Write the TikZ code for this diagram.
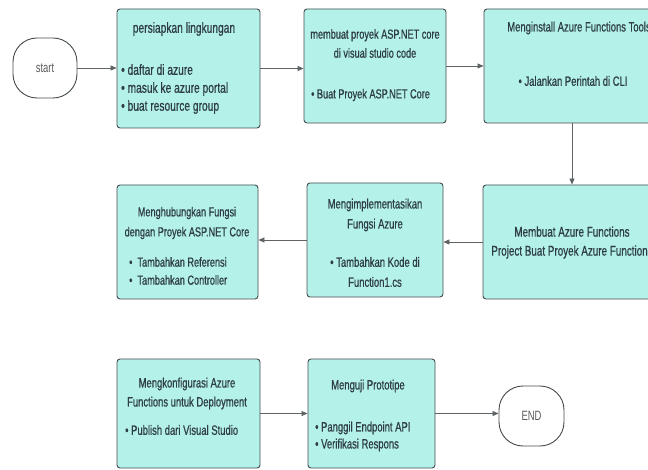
\documentclass[tikz,border=0pt]{standalone}
\usepackage{fontspec}
\setmainfont[FakeStretch=0.7]{Liberation Sans}
\newfontfamily\semib[FakeStretch=0.7,FakeBold=0.7]{Liberation Sans}
\usetikzlibrary{arrows.meta}
\definecolor{boxfill}{HTML}{B4F2E9}
\definecolor{boxline}{HTML}{454B4F}
\definecolor{txtc}{HTML}{2E3D45}
\definecolor{arrc}{HTML}{5E6366}
\definecolor{termtxt}{HTML}{5A5A5A}
\begin{document}
\begin{tikzpicture}[x=1pt,y=-1pt,
  box/.style={draw=boxline, fill=boxfill, line width=0.9pt, rounded corners=3pt, inner sep=0pt},
  term/.style={draw=boxline, fill=white, line width=0.9pt, rounded corners=24pt,
    minimum width=64pt, minimum height=60pt, inner sep=0pt, text=termtxt,
    font=\fontsize{13.5}{16}\selectfont},
  txt/.style={inner sep=0pt, text=txtc, font=\semib\fontsize{13.5}{19}\selectfont},
  ctxt/.style={txt, align=center},
  ltxt/.style={txt, align=left, anchor=west},
  arr/.style={draw=arrc, line width=0.8pt, -{Triangle[length=6pt,width=5pt]}}
]
\useasboundingbox (0,0) rectangle (648,470);

% terminals
\node[term] (start) at (45,68) {start};
\node[term, minimum width=65pt] (end) at (531.5,416) {END};

% row 1
\node[box, minimum width=143pt, minimum height=119pt] (b1) at (188.5,68.5) {};
\node[ctxt, font=\semib\fontsize{14.6}{17}\selectfont] (b1t) at (184,29) {persiapkan lingkungan};
\node[ltxt, font=\semib\fontsize{14.6}{18}\selectfont] (b1b) at (121,89) {• daftar di azure\\• masuk ke azure portal\\• buat resource group};

\node[box, minimum width=142pt, minimum height=114pt] (b2) at (375,66) {};
\node[ctxt, font=\semib\fontsize{13.1}{19}\selectfont] (b2t) at (375,43.5) {membuat proyek ASP.NET core\\di visual studio code};
\node[ltxt, font=\semib\fontsize{13.1}{19}\selectfont] (b2b) at (311,95) {• Buat Proyek ASP.NET Core};

\node[box, minimum width=182pt, minimum height=114pt] (b3) at (575,66) {};
\node[ctxt] (b3t) at (579,28) {Menginstall Azure Functions Tools};
\node[ctxt] (b3b) at (573,81) {• Jalankan Perintah di CLI};

% row 2
\node[box, minimum width=184pt, minimum height=114pt] (b4) at (575,242) {};
\node[ctxt, font=\semib\fontsize{14.1}{19}\selectfont] (b4t) at (572,242.5) {Membuat Azure Functions\\Project Buat Proyek Azure Functions};

\node[box, minimum width=136pt, minimum height=114pt] (b5) at (375,240) {};
\node[ctxt, font=\semib\fontsize{13.5}{20}\selectfont] (b5t) at (375,215) {Mengimplementasikan\\Fungsi Azure};
\node[ctxt, font=\semib\fontsize{13.5}{20}\selectfont] (b5b) at (375,272) {• Tambahkan Kode di\\Function1.cs};

\node[box, minimum width=141pt, minimum height=114pt] (b6) at (187.5,242) {};
\node[ctxt, font=\semib\fontsize{13.1}{20}\selectfont] (b6t) at (187,223) {Menghubungkan Fungsi\\dengan Proyek ASP.NET Core};
\node[ltxt, font=\semib\fontsize{13.1}{18}\selectfont] (b6b) at (129,271) {•\ \ Tambahkan Referensi\\•\ \ Tambahkan Controller};

% row 3
\node[box, minimum width=143pt, minimum height=109pt] (b7) at (188.5,413.5) {};
\node[ctxt, font=\semib\fontsize{13.5}{19}\selectfont] (b7t) at (187,393.5) {Mengkonfigurasi Azure\\Functions untuk Deployment};
\node[ltxt] (b7b) at (125,430) {• Publish dari Visual Studio};

\node[box, minimum width=127pt, minimum height=109pt] (b8) at (371.5,413.5) {};
\node[ctxt] (b8t) at (368,386) {Menguji Prototipe};
\node[ltxt, font=\semib\fontsize{13.5}{17}\selectfont] (b8b) at (315,436.5) {• Panggil Endpoint API\\• Verifikasi Respons};

% connectors
\draw[arr] (start.east) -- (start.east -| b1.west);
\draw[arr] (b1.east) -- (b1.east -| b2.west);
\draw[arr] (b2.east) -- (b2.east -| b3.west);
\draw[arr] ([xshift=-3pt]b3.south) -- ([xshift=-3pt]b3.south |- b4.north);
\draw[arr] (b4.west) -- (b4.west -| b5.east);
\draw[arr] (b5.west) -- (b5.west -| b6.east);
\draw[arr] (b7.east) -- (b7.east -| b8.west);
\draw[arr] (b8.east) -- (b8.east -| end.west);
\end{tikzpicture}
\end{document}
